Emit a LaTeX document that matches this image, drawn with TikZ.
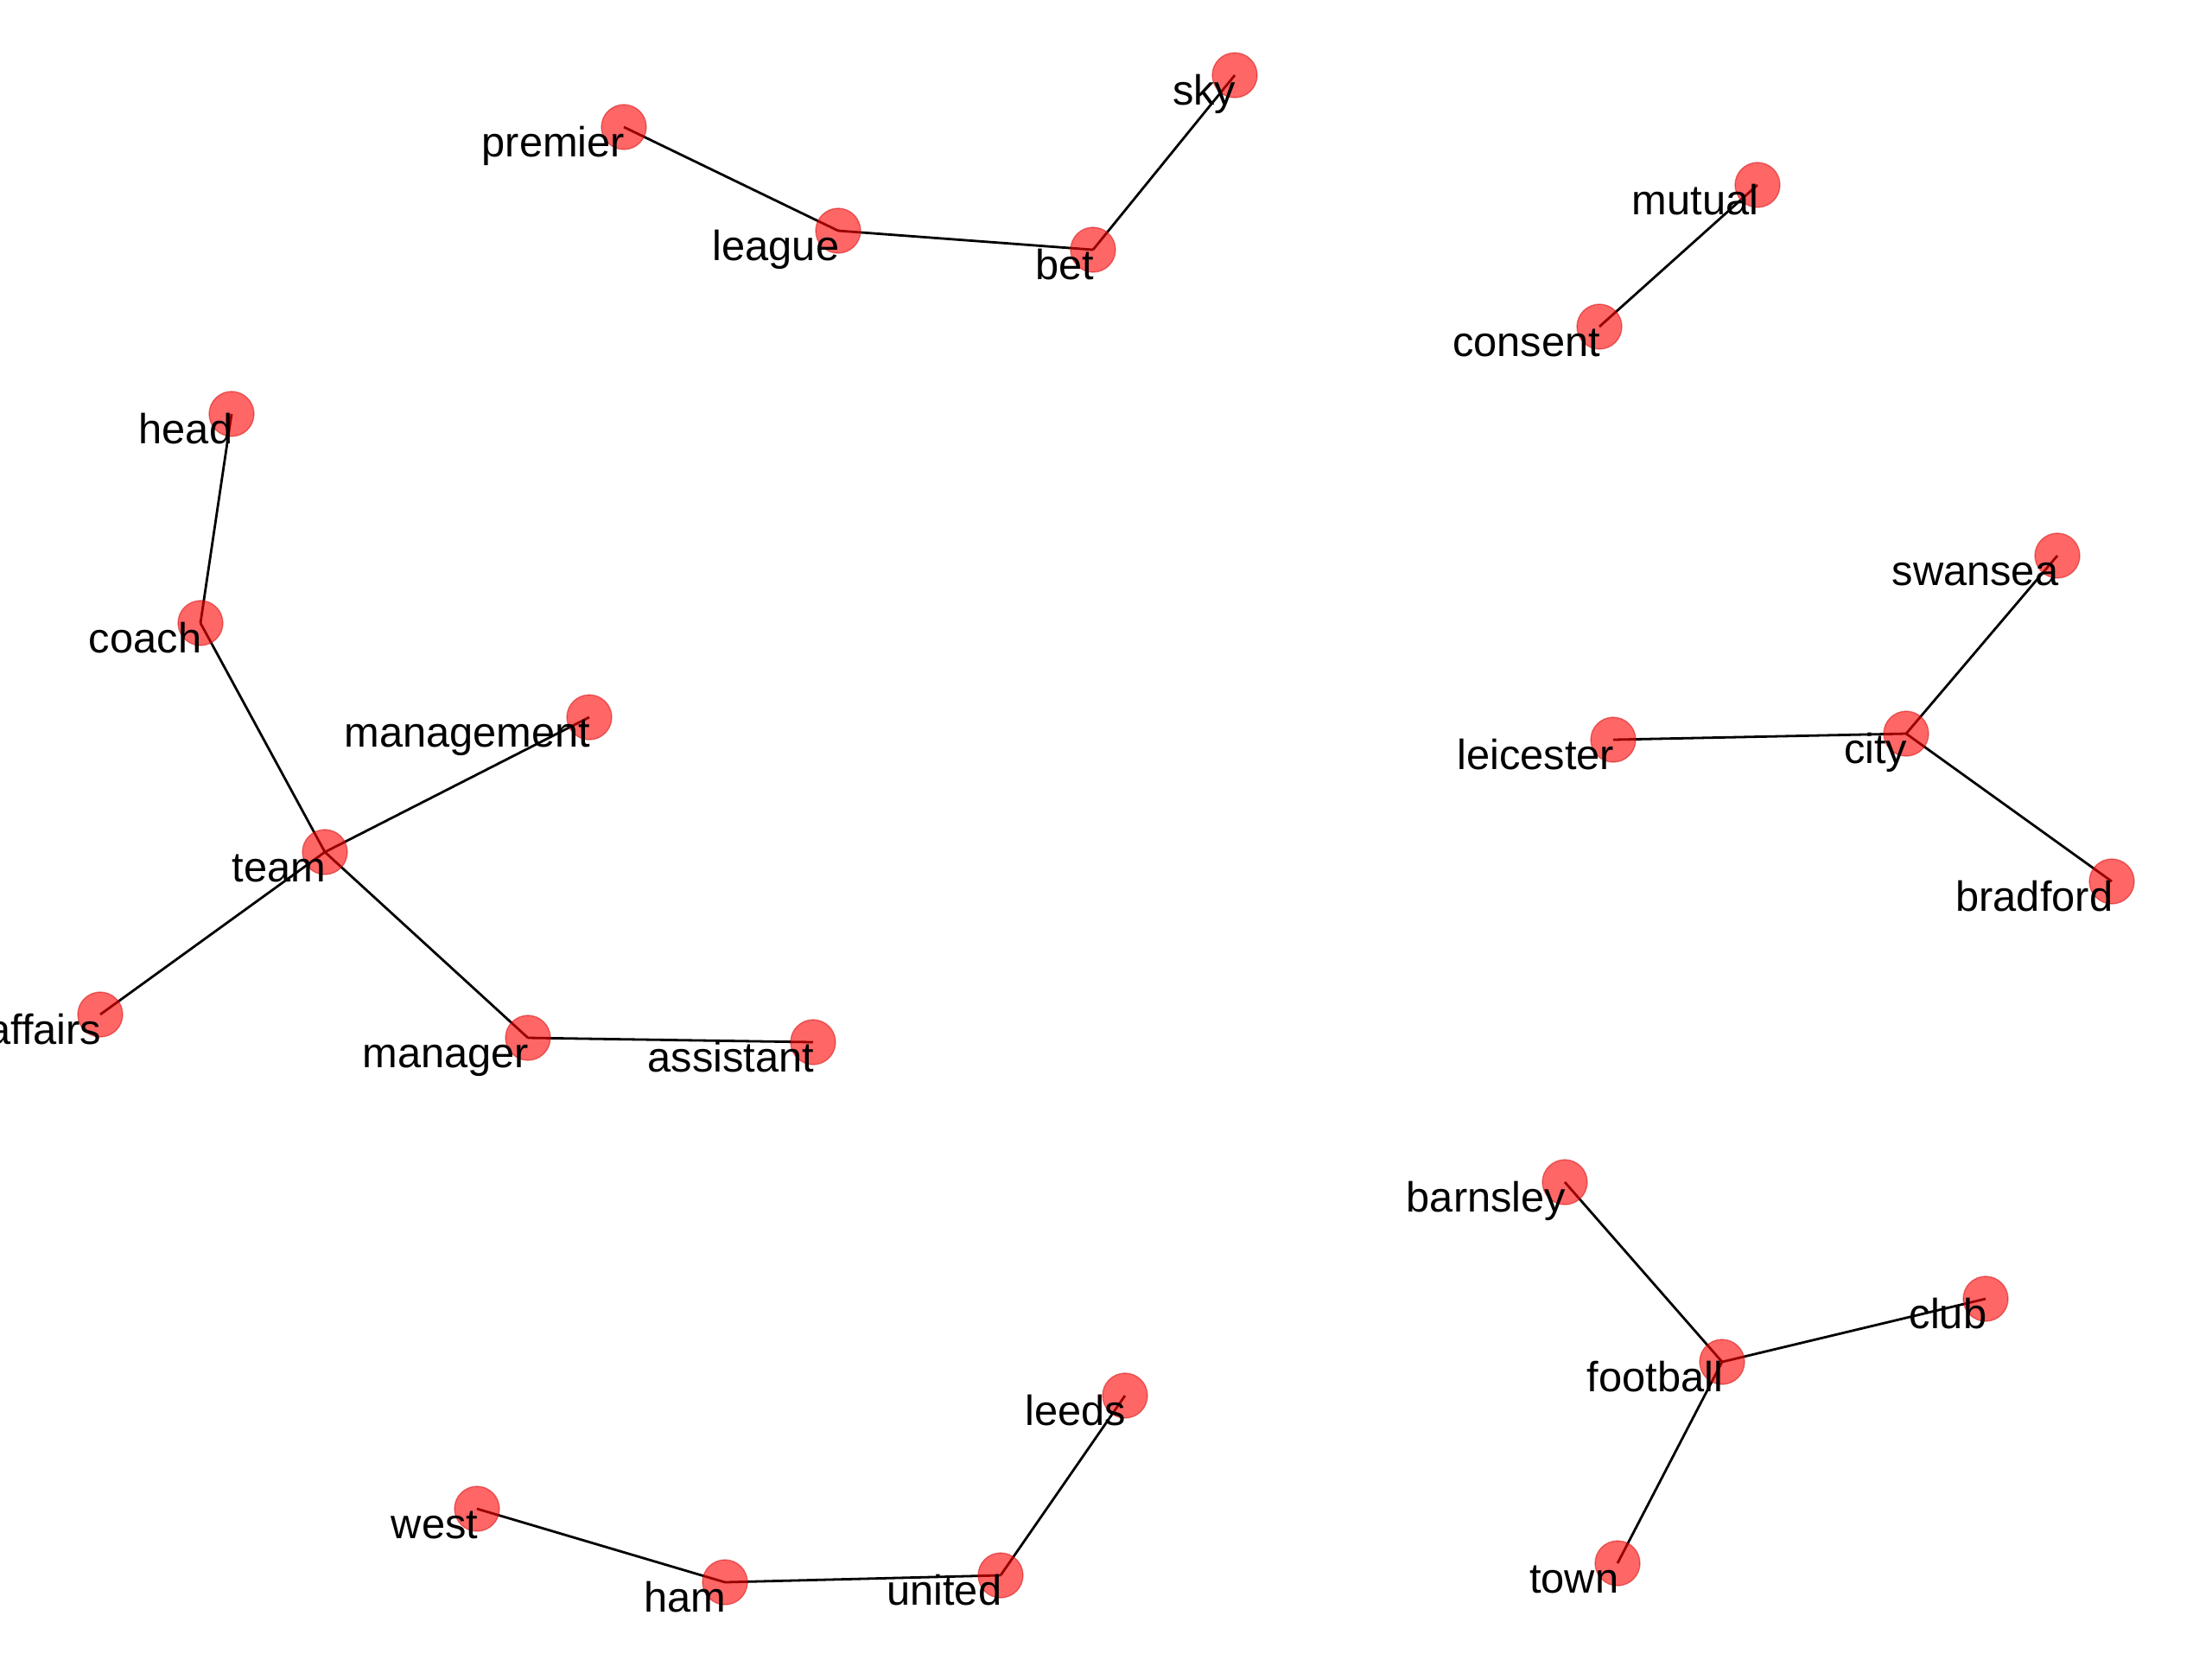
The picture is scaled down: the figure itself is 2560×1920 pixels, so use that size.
\documentclass[tikz,border=0pt]{standalone}
\usepackage{fontspec}
\setmainfont{Liberation Sans}
\usetikzlibrary{backgrounds}
\tikzset{
  vtx/.style={circle, minimum size=13pt, inner sep=0pt, fill=red, fill opacity=0.6,
              draw=red!80!black, draw opacity=0.45, line width=0.35pt},
  lbl/.style={anchor=base east, inner sep=0pt, xshift=0.5pt, yshift=-8.5pt, text=black,
              font=\fontsize{12.2}{14}\selectfont},
  edge/.style={draw=black, line width=0.7pt}
}
\newcommand{\vx}[3]{%
  \node[vtx] (#1) at (#2) {};
  \node[lbl] (lbl-#1) at (#1.center) {#3};
}
\begin{document}
\begin{tikzpicture}[x=0.25pt, y=-0.25pt]
\useasboundingbox (0,0) rectangle (2560,1920);
\vx{premier}{722,147}{premier}
\vx{league}{970,267}{league}
\vx{bet}{1265,289}{bet}
\vx{sky}{1429,87}{sky}
\vx{mutual}{2034,214}{mutual}
\vx{consent}{1851,378}{consent}
\vx{head}{268,479}{head}
\vx{coach}{232,721}{coach}
\vx{management}{682,830}{management}
\vx{team}{376,986}{team}
\vx{affairs}{116,1174}{affairs}
\vx{manager}{611,1201}{manager}
\vx{assistant}{941,1206}{assistant}
\vx{swansea}{2381,643}{swansea}
\vx{leicester}{1867,856}{leicester}
\vx{city}{2206,849}{city}
\vx{bradford}{2444,1020}{bradford}
\vx{barnsley}{1811,1368}{barnsley}
\vx{club}{2298,1503}{club}
\vx{football}{1993,1576}{football}
\vx{town}{1872,1809}{town}
\vx{west}{552,1746}{west}
\vx{ham}{839,1831}{ham}
\vx{united}{1158,1823}{united}
\vx{leeds}{1302,1615}{leeds}
\begin{scope}[on background layer]
\draw[edge] (premier.center) -- (league.center);
\draw[edge] (league.center) -- (bet.center);
\draw[edge] (bet.center) -- (sky.center);
\draw[edge] (mutual.center) -- (consent.center);
\draw[edge] (head.center) -- (coach.center);
\draw[edge] (coach.center) -- (team.center);
\draw[edge] (team.center) -- (management.center);
\draw[edge] (team.center) -- (affairs.center);
\draw[edge] (team.center) -- (manager.center);
\draw[edge] (manager.center) -- (assistant.center);
\draw[edge] (swansea.center) -- (city.center);
\draw[edge] (leicester.center) -- (city.center);
\draw[edge] (city.center) -- (bradford.center);
\draw[edge] (barnsley.center) -- (football.center);
\draw[edge] (football.center) -- (club.center);
\draw[edge] (football.center) -- (town.center);
\draw[edge] (west.center) -- (ham.center);
\draw[edge] (ham.center) -- (united.center);
\draw[edge] (united.center) -- (leeds.center);
\end{scope}
\end{tikzpicture}
\end{document}
